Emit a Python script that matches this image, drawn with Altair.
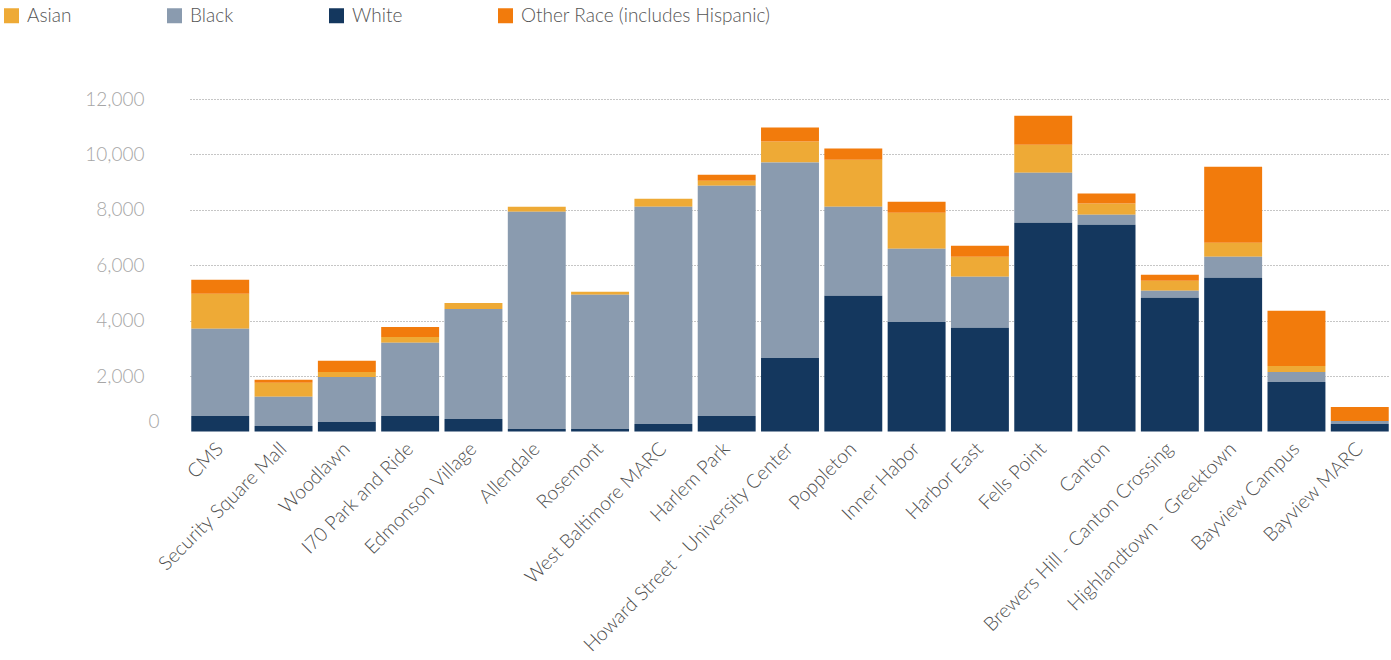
import altair as alt
import pandas as pd

categories = ["CMS", "Security Square Mall", "Woodlawn", "I70 Park and Ride", "Edmonson Village",
              "Allendale", "Rosemont", "West Baltimore MARC", "Harlem Park",
              "Howard Street - University Center", "Poppleton", "Inner Habor", "Harbor East",
              "Fells Point", "Canton", "Brewers Hill - Canton Crossing",
              "Highlandtown - Greektown", "Bayview Campus", "Bayview MARC"]

white = [560, 200, 345, 560, 450, 90, 90, 270, 560, 2655, 4895, 3955, 3740, 7535, 7465, 4825, 5550, 1790, 270]
black = [3145, 1050, 1625, 2640, 3975, 7845, 4845, 7840, 8310, 7050, 3215, 2640, 1845, 1805, 360, 255, 755, 360, 110]
asian = [1265, 505, 180, 215, 215, 180, 110, 290, 180, 760, 1700, 1300, 720, 1010, 400, 360, 505, 215, 0]
other = [505, 110, 400, 360, 0, 0, 0, 0, 215, 505, 400, 395, 400, 1050, 360, 215, 2745, 1990, 505]

series_names = ["Asian", "Black", "White", "Other Race (includes Hispanic)"]
series_colors = ["#EEAA36", "#8A9BAF", "#14375E", "#F27B0C"]
stack_rank = {"White": 0, "Black": 1, "Asian": 2, "Other Race (includes Hispanic)": 3}
y_ticks = [0, 2000, 4000, 6000, 8000, 10000, 12000]

rows = []
for name, vals in zip(series_names, [asian, black, white, other]):
    for cat, v in zip(categories, vals):
        rows.append({"station": cat, "race": name, "value": v, "rank": stack_rank[name]})
df = pd.DataFrame(rows)

FONT = "Lato"

chart = alt.Chart(df).mark_bar().encode(
    x=alt.X("station:N", sort=categories, title=None,
            scale=alt.Scale(paddingInner=0.085, paddingOuter=0.02),
            axis=alt.Axis(labelAngle=-45, labelAlign="right", labelBaseline="middle",
                          labelPadding=14, domain=False, ticks=False, labelFontSize=19.5,
                          labelFont=FONT, labelFontWeight=300, labelColor="#4D4D4D",
                          labelLimit=400)),
    y=alt.Y("value:Q", stack="zero", title=None,
            scale=alt.Scale(domain=[0, 12000], nice=False),
            axis=alt.Axis(values=y_ticks, format=",.0f", domain=False, ticks=False,
                          labelFontSize=19, labelFont=FONT, labelFontWeight=300,
                          labelColor="#A6A6A6",
                          labelPadding={"condition": {"test": "datum.value === 0", "value": 31}, "value": 46},
                          labelOffset={"condition": {"test": "datum.value === 0", "value": -10}, "value": 0},
                          grid=True, gridColor="#8C8C8C", gridDash=[1, 2], gridWidth=1,
                          gridOpacity={"condition": {"test": "datum.value === 0", "value": 0}, "value": 1})),
    color=alt.Color("race:N", title=None,
                    scale=alt.Scale(domain=series_names, range=series_colors),
                    legend=alt.Legend(orient="none", legendX=-188, legendY=-93,
                                      direction="horizontal", symbolType="square",
                                      symbolSize=225, symbolStrokeWidth=0,
                                      labelFontSize=19, labelFont=FONT, labelFontWeight=300,
                                      labelColor="#555555", labelOffset=6, labelLimit=400,
                                      columnPadding=93, padding=0)),
    order=alt.Order("rank:Q", sort="ascending"),
).properties(
    width=1200,
    height=332.5,
    autosize=alt.AutoSizeParams(type="none"),
    padding={"left": 190, "top": 99, "right": 1, "bottom": 228.5},
).configure_view(stroke=None)

chart.save("out.html", embed_options={"renderer": "svg", "actions": False})
